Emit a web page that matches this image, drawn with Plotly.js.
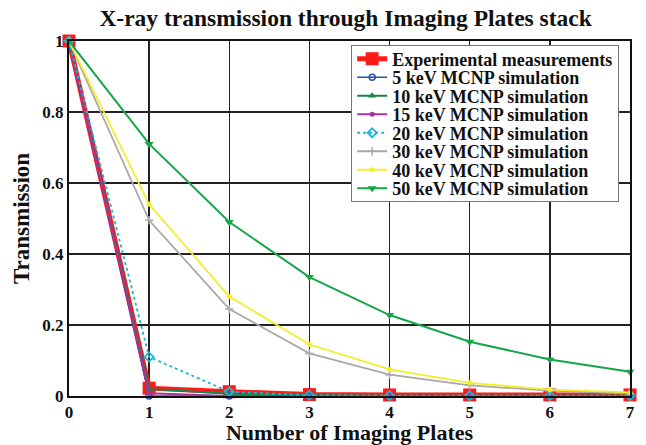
<!DOCTYPE html>
<html><head><meta charset="utf-8">
<script src="https://cdn.plot.ly/plotly-3.0.1.min.js"></script>
<style>body{margin:0;padding:0;background:#fff}</style>
</head><body>
<div id="chart" style="width:646px;height:445px"></div>
<script>
const plates = [0, 1, 2, 3, 4, 5, 6, 7];
const experimental = [1, 0.022, 0.012, 0.004, 0.003, 0.003, 0.003, 0.003];
const kev5  = [1, 0.0, 0.0, 0.0, 0.0, 0.0, 0.0, 0.0];
const kev10 = [1, 0.02, 0.006, 0.002, 0.001, 0.001, 0.001, 0.001];
const kev15 = [1, 0.008, 0.0, 0.0, 0.0, 0.0, 0.0, 0.0];
const kev20 = [1, 0.11, 0.012, 0.002, 0.001, 0.001, 0.001, 0.001];
const kev30 = [1, 0.495, 0.245, 0.12, 0.06, 0.03, 0.015, 0.007];
const kev40 = [1, 0.54, 0.28, 0.145, 0.075, 0.037, 0.018, 0.01];
const kev50 = [1, 0.71, 0.49, 0.335, 0.228, 0.153, 0.103, 0.068];
const names = ['Experimental measurements','5 keV MCNP simulation','10 keV MCNP simulation','15 keV MCNP simulation','20 keV MCNP simulation','30 keV MCNP simulation','40 keV MCNP simulation','50 keV MCNP simulation'];
const xTicks = [0,1,2,3,4,5,6,7];
const yTicks = [0,0.2,0.4,0.6,0.8,1];
const yTickText = ['0','0.2','0.4','0.6','0.8','1'];

function tr(y, name, color, width, dash, symbol, msize, mline) {
  return {x: plates, y: y, name: name, type: 'scatter', mode: 'lines+markers', cliponaxis: false,
    line: {color: color, width: width, dash: dash},
    marker: {symbol: symbol, size: msize, color: color, line: {color: color, width: mline || 0}}};
}
const data = [
  tr(experimental, names[0], '#ff1a1a', 5, 'solid', 'square', 13),
  tr(kev5, names[1], '#2a4fb0', 1.5, 'solid', 'circle-open', 6, 1.5),
  tr(kev10, names[2], '#13864a', 2, 'solid', 'triangle-up', 7),
  tr(kev15, names[3], '#a8349a', 2, 'solid', 'circle', 5),
  tr(kev20, names[4], '#17b6d8', 1.8, 'dot', 'diamond-open', 7, 1.8),
  tr(kev30, names[5], '#a9a9a9', 1.8, 'solid', 'cross-thin-open', 6, 1.5),
  tr(kev40, names[6], '#f2ee2a', 1.8, 'solid', 'circle', 5),
  tr(kev50, names[7], '#17a54a', 2, 'solid', 'triangle-down', 8)
];
data[5].marker.line.color = '#555';
const fontFam = '"Liberation Serif", "Times New Roman", serif';
const layout = {
  width: 646, height: 445,
  margin: {l: 69, r: 16, t: 41, b: 49},
  paper_bgcolor: '#fff', plot_bgcolor: '#fff',
  font: {family: fontFam, color: '#111', size: 15, weight: 'bold'},
  title: {text: '<b>X-ray transmission through Imaging Plates stack</b>', x: 0.535, xanchor: 'center', y: 0.96, yanchor: 'middle', font: {family: fontFam, size: 23.5, color: '#111'}},
  xaxis: {range: [0, 7], tickvals: xTicks, ticktext: xTicks.map(String), showgrid: true, gridcolor: '#222', gridwidth: 1.5,
    showline: true, linecolor: '#111', linewidth: 2, mirror: true, zeroline: false, ticks: '',
    tickfont: {family: fontFam, size: 17, weight: 'bold'},
    title: {text: '<b>Number of Imaging Plates</b>', font: {family: fontFam, size: 22}, standoff: 9}},
  yaxis: {range: [0, 1], tickvals: yTicks, ticktext: yTickText, showgrid: true, gridcolor: '#222', gridwidth: 1.5,
    showline: true, linecolor: '#111', linewidth: 2, mirror: true, zeroline: false, ticks: '',
    tickfont: {family: fontFam, size: 17, weight: 'bold'},
    title: {text: '<b>Transmission</b>', font: {family: fontFam, size: 23}, standoff: 6}},
  legend: {x: 0.503, y: 0.99, xanchor: 'left', yanchor: 'top', bgcolor: '#fff', bordercolor: '#777', borderwidth: 1,
    font: {family: fontFam, size: 18, weight: 'bold', color: '#111'}, tracegroupgap: 0, itemwidth: 30},
  showlegend: true
};
Plotly.newPlot('chart', data, layout, {displayModeBar: false, staticPlot: true}).then(function (gd) {
  // tighten legend row spacing to match the reference
  const rows = Array.from(gd.querySelectorAll('.legend .traces'));
  if (rows.length < 2) return;
  const parse = el => {
    const m = /translate\(\s*([-\d.e]+)[ ,]+([-\d.e]+)\s*\)/.exec(el.getAttribute('transform') || '');
    return m ? [parseFloat(m[1]), parseFloat(m[2])] : null;
  };
  const p0 = parse(rows[0]), p1 = parse(rows[1]);
  if (!p0 || !p1) return;
  const oldStep = p1[1] - p0[1], newStep = 18.5, lift = 5;
  rows.forEach((r, i) => {
    const p = parse(r);
    if (p) r.setAttribute('transform', 'translate(' + p[0] + ',' + (p0[1] - lift + i * newStep) + ')');
  });
  const bg = gd.querySelector('.legend .bg');
  if (bg) {
    const h = parseFloat(bg.getAttribute('height'));
    bg.setAttribute('height', h - (oldStep - newStep) * (rows.length - 1) - lift - 6);
  }
});
</script>
</body></html>
